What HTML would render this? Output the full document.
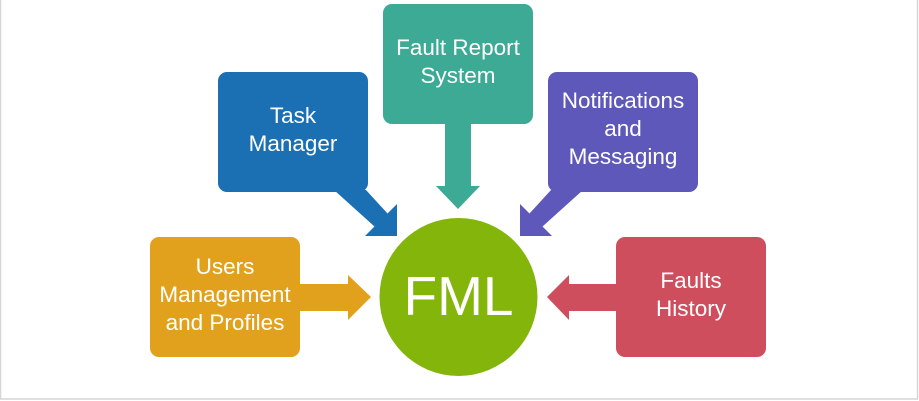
<!DOCTYPE html>
<html><head><style>
body{margin:0;background:#fff;}
svg{display:block;font-family:"Liberation Sans",sans-serif;}
</style></head><body>
<svg width="919" height="401" viewBox="0 0 919 401">
<rect x="0.5" y="-1" width="917" height="400" fill="none" stroke="#d6d6d6" stroke-width="1.5"/>
<rect x="150" y="237" width="150" height="120" rx="9" fill="#E2A11D"/>
<polygon points="298,284 348,284 348,275 371,297 348,320 348,311 298,311" fill="#E2A11D"/>
<rect x="218" y="72" width="150" height="120" rx="9" fill="#1B6FB3"/>
<polygon points="334,190 366,190 387.5,213.5 397,204 397,236 365,236 374.5,226.5" fill="#1B6FB3"/>
<rect x="383" y="4" width="150" height="120" rx="9" fill="#3DAA95"/>
<polygon points="445,122 471,122 471,186 480,186 458,209 436,186 445,186" fill="#3DAA95"/>
<rect x="548" y="72" width="150" height="120" rx="9" fill="#5E58BA"/>
<polygon points="583,190 551,190 529.5,213.5 520,204 520,236 552,236 542.5,226.5" fill="#5E58BA"/>
<rect x="616" y="237" width="150" height="120" rx="9" fill="#CF4E5E"/>
<polygon points="618,284 569,284 569,275 547,297 569,320 569,311 618,311" fill="#CF4E5E"/>
<circle cx="458.5" cy="297" r="79" fill="#83B50A"/>
<g fill="#fff" font-size="22.5" text-anchor="middle">
<text x="458.5" y="315" font-size="55">FML</text>
<text x="225" y="274">Users</text>
<text x="225" y="302">Management</text>
<text x="225" y="330">and Profiles</text>
<text x="293" y="123">Task</text>
<text x="293" y="151">Manager</text>
<text x="458" y="55">Fault Report</text>
<text x="458" y="83">System</text>
<text x="623" y="108">Notifications</text>
<text x="623" y="136">and</text>
<text x="623" y="164">Messaging</text>
<text x="691" y="288">Faults</text>
<text x="691" y="316">History</text>
</g>
</svg>
</body></html>
